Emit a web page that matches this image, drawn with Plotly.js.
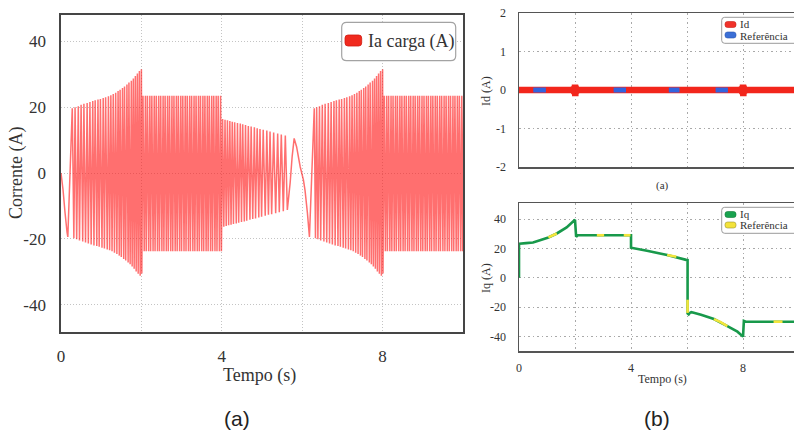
<!DOCTYPE html>
<html><head><meta charset="utf-8">
<script src="https://cdn.plot.ly/plotly-3.0.1.min.js"></script>
<style>html,body{margin:0;padding:0;background:#fff;}#chart{width:794px;height:430px;}</style>
</head><body><div id="chart"></div>
<script>
// ---------- (a) left: Ia carga (A) turning points ----------
const iaStartT = [0, 0.05, 0.10, 0.15, 0.17];
const iaStartV = [0, -5, -12, -18, -19.4];
const rampT1 = [0.28,0.32,0.35,0.39,0.43,0.46,0.50,0.54,0.57,0.61,0.65,0.68,0.72,0.75,0.79,0.82,0.85,0.89,0.92,0.95,0.98,1.02,1.05,1.08,1.11,1.15,1.18,1.21,1.24,1.27,1.30,1.33,1.36,1.39,1.42,1.45,1.47,1.50,1.53,1.56,1.58,1.61,1.64,1.67,1.69,1.72,1.75,1.77,1.80,1.82,1.85,1.87,1.90,1.92,1.95,1.97,2.00];
const rampT2 = [6.30,6.33,6.36,6.39,6.43,6.46,6.50,6.54,6.57,6.61,6.65,6.68,6.72,6.75,6.79,6.82,6.85,6.89,6.92,6.95,6.98,7.02,7.05,7.08,7.11,7.15,7.18,7.21,7.24,7.27,7.30,7.33,7.36,7.39,7.42,7.45,7.47,7.50,7.53,7.56,7.58,7.61,7.64,7.67,7.69,7.72,7.75,7.77,7.80,7.82,7.85,7.87,7.90,7.92,7.95,7.97,8.00];
const rampV = [19.7,-19.8,20.0,-20.1,20.3,-20.5,20.7,-20.8,21.0,-21.1,21.3,-21.4,21.6,-21.7,21.9,-22.0,22.1,-22.2,22.3,-22.4,22.5,-22.7,22.8,-22.9,23.0,-23.2,23.3,-23.5,23.6,-23.8,24.0,-24.2,24.4,-24.6,24.9,-25.1,25.3,-25.5,25.8,-26.1,26.3,-26.6,26.9,-27.2,27.5,-27.7,28.0,-28.4,28.7,-29.1,29.5,-29.9,30.2,-30.6,31.0,-31.2,31.5];
const dropT1 = [2.01], dropT2 = [8.01], dropV = [-30.5];
const blockT1 = [2.04,2.07,2.10,2.12,2.15,2.18,2.21,2.23,2.26,2.29,2.32,2.34,2.37,2.40,2.43,2.45,2.48,2.51,2.54,2.56,2.59,2.62,2.65,2.67,2.70,2.73,2.76,2.78,2.81,2.84,2.87,2.89,2.92,2.95,2.98,3.00,3.03,3.06,3.09,3.11,3.14,3.17,3.20,3.22,3.25,3.28,3.31,3.33,3.36,3.39,3.42,3.44,3.47,3.50,3.53,3.55,3.58,3.61,3.64,3.66,3.69,3.72,3.75,3.77,3.80,3.83,3.86,3.88,3.91,3.94,3.97,3.99];
const blockT2 = [8.04,8.07,8.10,8.12,8.15,8.18,8.21,8.23,8.26,8.29,8.32,8.34,8.37,8.40,8.43,8.45,8.48,8.51,8.54,8.56,8.59,8.62,8.65,8.67,8.70,8.73,8.76,8.78,8.81,8.84,8.87,8.89,8.92,8.95,8.98,9.00,9.03,9.06,9.09,9.11,9.14,9.17,9.20,9.22,9.25,9.28,9.31,9.33,9.36,9.39,9.42,9.44,9.47,9.50,9.53,9.55,9.58,9.61,9.64,9.66,9.69,9.72,9.75,9.77,9.80,9.83,9.86,9.88,9.91,9.94,9.97,9.99];
const blockV = [23.5,-23.8,23.5,-23.8,23.5,-23.8,23.5,-23.8,23.5,-23.8,23.5,-23.8,23.5,-23.8,23.5,-23.8,23.5,-23.8,23.5,-23.8,23.5,-23.8,23.5,-23.8,23.5,-23.8,23.5,-23.8,23.5,-23.8,23.5,-23.8,23.5,-23.8,23.5,-23.8,23.5,-23.8,23.5,-23.8,23.5,-23.8,23.5,-23.8,23.5,-23.8,23.5,-23.8,23.5,-23.8,23.5,-23.8,23.5,-23.8,23.5,-23.8,23.5,-23.8,23.5,-23.8,23.5,-23.8,23.5,-23.8,23.5,-23.8,23.5,-23.8,23.5,-23.8,23.5,-23.8];
const decayT = [4.02,4.05,4.08,4.11,4.14,4.17,4.20,4.23,4.26,4.29,4.32,4.36,4.39,4.42,4.46,4.49,4.52,4.56,4.59,4.62,4.66,4.70,4.73,4.77,4.81,4.84,4.88,4.92,4.95,4.99,5.03,5.08,5.12,5.16,5.20,5.24,5.29,5.34,5.39,5.43,5.48,5.53,5.58,5.63];
const decayV = [16.4,-16.3,16.2,-16.1,16.0,-15.9,15.8,-15.7,15.6,-15.5,15.4,-15.3,15.2,-15.1,15.0,-14.9,14.8,-14.7,14.6,-14.5,14.3,-14.2,14.1,-14.0,13.9,-13.8,13.6,-13.5,13.4,-13.3,13.1,-13.0,12.9,-12.7,12.6,-12.5,12.3,-12.2,12.0,-11.9,11.7,-11.6,11.4,-11.2];
const slowT = [5.70,5.75,5.80,5.86,5.95,6.03,6.07,6.13,6.18];
const slowV = [-3,5,10.5,8,1.9,-2.1,-5.2,-12.2,-19.4];
const endT = [10.02], endV = [23.5];

// ---------- (b) top: Id ----------
const idT = [0,1.92,1.96,1.98,2.00,2.01,2.02,2.04,2.08,7.92,7.96,7.98,8.00,8.01,8.02,8.04,8.08,9.82];
const idV = [0,0,0.06,-0.1,0.14,-0.16,0.1,-0.06,0,0,0.06,-0.1,0.14,-0.16,0.1,-0.06,0,0];
const idRefT = [0.51,0.96,null,3.38,3.82,null,5.35,5.73,null,7.02,7.46];
const idRefV = [0,0,null,0,0,null,0,0,null,0,0];

// ---------- (b) bottom: Iq ----------
const iqT = [0,0,0.25,0.5,0.75,1.05,1.35,1.7,1.96,2.0,2.04,2.1,4.0,4.0,4.57,5.29,5.97,6.02,6.02,6.06,6.1,6.15,6.24,6.5,6.96,7.44,7.8,8.0,8.03,8.1,9.82];
const iqV = [0,23.2,23.6,24.1,25.6,27.5,30.2,34.3,38.9,39.5,28,29,29,20.5,18.4,15.5,12.2,12,-24.3,-25,-24,-23.5,-23.9,-25.3,-28.2,-33,-36.8,-40.2,-29.5,-30,-30];
const iqRefT = [1.05,1.2,1.35,null,2.78,3.04,null,3.74,3.98,null,5.29,5.62,null,6.02,6.02,null,6.96,7.2,7.44,null,9.09,9.41];
const iqRefV = [27.5,28.7,30.2,null,29,29,null,29,29,null,15.5,14.3,null,-15,-24,null,-28.2,-30.3,-33,null,-30,-30];

// tick labels
const leftXTicks = [0,2,4,6,8,10], leftXText = ['0','','4','','8',''];
const leftYTicks = [-40,-20,0,20,40], leftYText = ['-40','-20','0','20','40'];
const idYTicks = [-2,-1,0,1,2], idYText = ['-2','-1','0','1','2'];
const iqYTicks = [-40,-20,0,20,40], iqYText = ['-40','-20','0','20','40'];
const rightXTicks = [0,2,4,6,8], rightXText = ['0','','4','','8'];

const iaTime = [].concat(iaStartT, rampT1, dropT1, blockT1, decayT, slowT, rampT2, dropT2, blockT2, endT);
const iaValue = [].concat(iaStartV, rampV, dropV, blockV, decayV, slowV, rampV, dropV, blockV, endV);

const W = 794, H = 430;
const X = x => x / W, Y = y => 1 - y / H;
const SERIF = 'Liberation Serif, Times New Roman, serif';
const SANS = 'Liberation Sans, Arial, sans-serif';

const traces = [
  {x: iaTime, y: iaValue, xaxis: 'x', yaxis: 'y', mode: 'lines', line: {color: 'rgba(255,22,22,0.62)', width: 1.5, simplify: false}, hoverinfo: 'skip'},
  {x: idT, y: idV, xaxis: 'x2', yaxis: 'y2', mode: 'lines', line: {color: '#f2261c', width: 6.5, simplify: false}, hoverinfo: 'skip'},
  {x: idRefT, y: idRefV, xaxis: 'x2', yaxis: 'y2', mode: 'lines', line: {color: '#3164e0', width: 5}, connectgaps: false, hoverinfo: 'skip'},
  {x: iqT, y: iqV, xaxis: 'x3', yaxis: 'y3', mode: 'lines', line: {color: '#18994b', width: 2.6, simplify: false}, hoverinfo: 'skip'},
  {x: iqRefT, y: iqRefV, xaxis: 'x3', yaxis: 'y3', mode: 'lines', line: {color: '#f3e53c', width: 2.6}, connectgaps: false, hoverinfo: 'skip'}
];

function rr(x0, y0, x1, y1, r) {
  const p = (x, y) => X(x) + ',' + Y(y);
  return 'M' + p(x0 + r, y0) + ' L' + p(x1 - r, y0) + ' Q' + p(x1, y0) + ' ' + p(x1, y0 + r) +
    ' L' + p(x1, y1 - r) + ' Q' + p(x1, y1) + ' ' + p(x1 - r, y1) + ' L' + p(x0 + r, y1) +
    ' Q' + p(x0, y1) + ' ' + p(x0, y1 - r) + ' L' + p(x0, y0 + r) + ' Q' + p(x0, y0) + ' ' + p(x0 + r, y0) + ' Z';
}
function box(x0, y0, x1, y1, r, fill, line, lw) {
  return {type: 'path', xref: 'paper', yref: 'paper', path: rr(x0, y0, x1, y1, r), fillcolor: fill, line: {color: line, width: lw}};
}
function ann(text, x, y, size, o) {
  return Object.assign({text: text, x: X(x), y: Y(y), xref: 'paper', yref: 'paper', showarrow: false,
    xanchor: 'center', yanchor: 'middle', font: {family: SERIF, size: size, color: '#333'}}, o || {});
}

const leftAxisCommon = {showgrid: true, gridcolor: '#c4c4c4', griddash: '1px,2px', gridwidth: 1, zeroline: false,
  showline: true, mirror: true, linecolor: '#454545', linewidth: 1.6, ticks: '', tickmode: 'array',
  tickfont: {family: SERIF, size: 17, color: '#333'}, fixedrange: true};
const rightAxisCommon = {showgrid: true, gridcolor: '#a9a9a9', griddash: '1.5px,3px', gridwidth: 1, zeroline: false,
  showline: true, linecolor: '#555', linewidth: 1.5, ticks: '', tickmode: 'array',
  tickfont: {family: SERIF, size: 12, color: '#333'}, fixedrange: true};

const layout = {
  width: W, height: H, margin: {l: 0, r: 0, t: 0, b: 0}, paper_bgcolor: '#fff', plot_bgcolor: '#fff', showlegend: false,
  xaxis: Object.assign({}, leftAxisCommon, {domain: [X(61), X(463)], range: [0, 10], tickvals: leftXTicks, ticktext: leftXText, anchor: 'y', ticklabelstandoff: 8}),
  yaxis: Object.assign({}, leftAxisCommon, {domain: [Y(332), Y(15)], range: [-48.3, 48], tickvals: leftYTicks, ticktext: leftYText, anchor: 'x', ticklabelstandoff: 10}),
  xaxis2: Object.assign({}, rightAxisCommon, {domain: [X(519), 1], range: [0, 9.82], tickvals: [2, 4, 6, 8], showticklabels: false, anchor: 'y2', mirror: true}),
  yaxis2: Object.assign({}, rightAxisCommon, {domain: [Y(167), Y(13)], range: [-2, 2], tickvals: idYTicks, ticktext: idYText, anchor: 'x2', mirror: false, ticklabelstandoff: 9}),
  xaxis3: Object.assign({}, rightAxisCommon, {domain: [X(519), 1], range: [0, 9.82], tickvals: rightXTicks, ticktext: rightXText, anchor: 'y3', mirror: true, ticklabelstandoff: 5}),
  yaxis3: Object.assign({}, rightAxisCommon, {domain: [Y(351), Y(203)], range: [-50, 51], tickvals: iqYTicks, ticktext: iqYText, anchor: 'x3', mirror: false, ticklabelstandoff: 9}),
  shapes: [
    box(341.7, 22.3, 455.7, 60.7, 5, '#fff', '#a3a3a3', 1.2),
    box(345, 35, 361.7, 46, 3, '#f02a1e', '#d01a10', 0.8),
    box(721.7, 17.3, 805, 43.3, 3, '#fff', '#9a9a9a', 1),
    box(725, 21.5, 736, 27.5, 2.5, '#f0322a', '#c82018', 0.6),
    box(725, 32, 736, 38, 2.5, '#3b6fd6', '#2a55b0', 0.6),
    box(721.7, 207.3, 805, 233.3, 3, '#fff', '#9a9a9a', 1),
    box(725, 211.5, 736, 217.5, 2.5, '#19a24f', '#107a38', 0.6),
    box(725, 222, 736, 228, 2.5, '#f3e23a', '#9a9430', 0.6)
  ],
  annotations: [
    ann('Corrente (A)', 17, 173, 18, {textangle: -90}),
    ann('Tempo (s)', 259, 375, 18),
    ann('Ia carga (A)', 366, 41, 18, {xanchor: 'left'}),
    ann('Id (A)', 486, 91, 12, {textangle: -90}),
    ann('Id', 738, 24, 11, {xanchor: 'left'}),
    ann('Referência', 738, 35.5, 11, {xanchor: 'left'}),
    ann('(a)', 662, 185, 11),
    ann('Iq (A)', 486, 278, 12, {textangle: -90}),
    ann('Iq', 738, 214, 11, {xanchor: 'left'}),
    ann('Referência', 738, 225.5, 11, {xanchor: 'left'}),
    ann('Tempo (s)', 662, 379, 12),
    ann('(a)', 237, 418, 21, {font: {family: SANS, size: 21, color: '#222'}}),
    ann('(b)', 657, 418, 21, {font: {family: SANS, size: 21, color: '#222'}})
  ]
};

Plotly.newPlot('chart', traces, layout, {staticPlot: true, displayModeBar: false});
</script></body></html>
